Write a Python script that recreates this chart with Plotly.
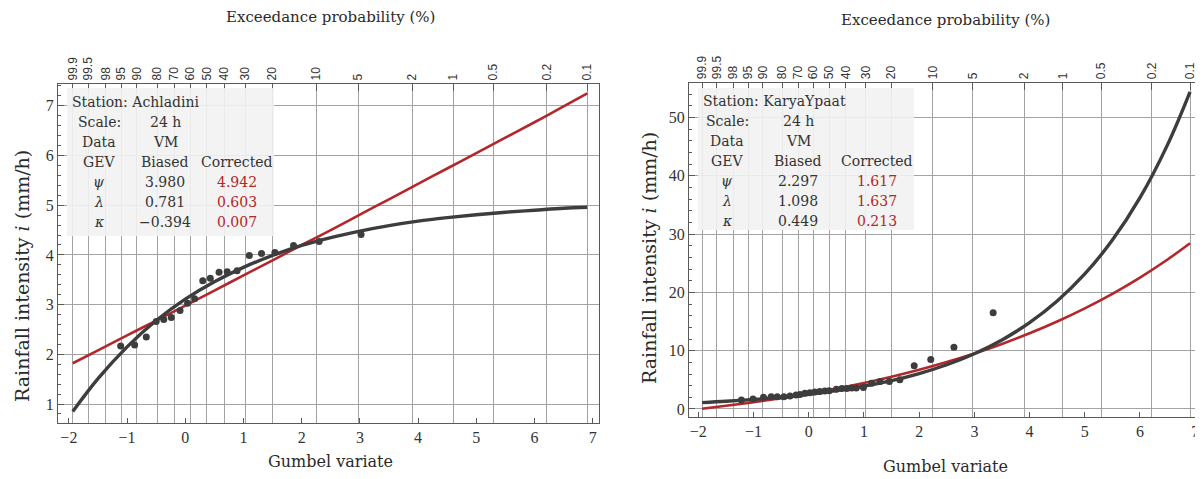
import plotly.graph_objects as go

# ---------------- data ----------------
prob_labels = ["99.9", "99.5", "98", "95", "90", "80", "70", "60", "50", "40", "30", "20",
               "10", "5", "2", "1", "0.5", "0.2", "0.1"]
prob_gumbel = [-1.933, -1.667, -1.364, -1.097, -0.834, -0.476, -0.186, 0.087, 0.367, 0.672,
               1.031, 1.500, 2.250, 2.970, 3.902, 4.600, 5.296, 6.214, 6.907]

curve_x = [-1.933, -1.5, -1.0, -0.5, 0.0, 0.5, 1.0, 1.5, 2.0, 2.5, 3.0, 3.5, 4.0, 4.5,
           5.0, 5.5, 6.0, 6.5, 6.907]

# Left: Achladini
a_pts_x = [-1.11, -0.87, -0.67, -0.50, -0.37, -0.24, -0.09, 0.04, 0.16, 0.30, 0.43, 0.58,
           0.72, 0.89, 1.10, 1.31, 1.54, 1.86, 2.30, 3.02]
a_pts_y = [2.17, 2.19, 2.35, 2.66, 2.70, 2.74, 2.88, 3.03, 3.12, 3.48, 3.53, 3.65,
           3.66, 3.68, 3.99, 4.03, 4.05, 4.19, 4.27, 4.41]
a_biased = [0.85, 1.51, 2.15, 2.68, 3.11, 3.46, 3.75, 3.99, 4.19, 4.35, 4.48, 4.59, 4.68,
            4.75, 4.81, 4.86, 4.90, 4.94, 4.96]
a_corr = [1.82, 2.08, 2.38, 2.68, 2.98, 3.28, 3.59, 3.89, 4.20, 4.50, 4.81, 5.12, 5.43,
          5.74, 6.05, 6.36, 6.67, 6.99, 7.25]

# Right: KaryaYpaat
k_pts_x = [-1.22, -1.01, -0.82, -0.68, -0.57, -0.45, -0.34, -0.23, -0.16, -0.07, 0.02, 0.11,
           0.20, 0.29, 0.37, 0.50, 0.60, 0.69, 0.78, 0.86, 0.99, 1.14, 1.29, 1.46, 1.65,
           1.91, 2.21, 2.63, 3.34]
k_pts_y = [1.54, 1.71, 2.0, 2.1, 2.1, 2.1, 2.23, 2.4, 2.5, 2.7, 2.8, 2.9,
           3.0, 3.1, 3.15, 3.4, 3.5, 3.5, 3.6, 3.6, 3.7, 4.4, 4.7, 4.7, 5.0,
           7.4, 8.5, 10.6, 16.5]
k_biased = [1.10, 1.32, 1.64, 2.03, 2.52, 3.14, 3.91, 4.87, 6.08, 7.59, 9.48, 11.85, 14.81,
            18.52, 23.16, 28.97, 36.24, 45.35, 54.4]
k_corr = [0.05, 0.55, 1.17, 1.87, 2.65, 3.51, 4.47, 5.54, 6.73, 8.05, 9.52, 11.16, 12.98,
          15.00, 17.26, 19.76, 22.54, 25.65, 28.43]

table_rows = [("GEV", "Biased", "Corrected"), ("ψ", None, None), ("λ", None, None), ("κ", None, None)]
a_table = {"station": "Station: Achladini", "scale": "24 h", "data": "VM",
           "biased": ["3.980", "0.781", "−0.394"], "corrected": ["4.942", "0.603", "0.007"]}
k_table = {"station": "Station: KaryaYpaat", "scale": "24 h", "data": "VM",
           "biased": ["2.297", "1.098", "0.449"], "corrected": ["1.617", "1.637", "0.213"]}

# ---------------- styles ----------------
DARK = "#3d3d3d"
RED = "#b3262a"
GRID = "#a3a3a3"
FRAME = "#5a5a5a"
SERIF = "Liberation Serif"
WIDE = "DejaVu Serif"
TXT = "#333333"

fig = go.Figure()

def add_panel(xa, ya, px, py, cb, cc):
    fig.add_trace(go.Scatter(x=curve_x, y=cc, mode="lines", line=dict(color=RED, width=2.6, shape="spline"),
                             xaxis=xa, yaxis=ya, showlegend=False, hoverinfo="skip"))
    fig.add_trace(go.Scatter(x=curve_x, y=cb, mode="lines", line=dict(color=DARK, width=3.4, shape="spline"),
                             xaxis=xa, yaxis=ya, showlegend=False, hoverinfo="skip"))
    fig.add_trace(go.Scatter(x=px, y=py, mode="markers", marker=dict(color=DARK, size=7),
                             xaxis=xa, yaxis=ya, showlegend=False))

add_panel("x", "y", a_pts_x, a_pts_y, a_biased, a_corr)
add_panel("x2", "y2", k_pts_x, k_pts_y, k_biased, k_corr)

tickfont = dict(family=SERIF, size=16, color=TXT)
topfont = dict(family="Liberation Sans", size=12, color=TXT)

def bottom_axis(domain, rng, anchor):
    return dict(domain=domain, range=rng, anchor=anchor, showgrid=False, zeroline=False,
                automargin=False,
                tickmode="array", tickvals=list(range(-2, 8)),
                ticktext=[("−" + str(-v)) if v < 0 else str(v) for v in range(-2, 8)],
                ticks="inside", ticklen=5, tickcolor=FRAME, showline=True, linecolor=FRAME,
                linewidth=1.2, tickfont=tickfont)

def top_axis(overlay, rng, anchor):
    return dict(overlaying=overlay, side="top", range=rng, anchor=anchor, tickmode="array",
                automargin=False,
                tickvals=prob_gumbel, ticktext=prob_labels, tickangle=-90, ticks="inside",
                ticklen=7, tickcolor=FRAME, showgrid=True, gridcolor=GRID, gridwidth=1,
                showline=True, linecolor=FRAME, linewidth=1.2, zeroline=False, tickfont=topfont)

# the page body adds an 8 px offset, so the figure is 8 px smaller and margins shifted
fig.update_layout(
    width=1195, height=471,
    margin=dict(l=50, r=3, t=74, b=56, autoexpand=False),
    paper_bgcolor="white", plot_bgcolor="white",
    xaxis=bottom_axis([0, 0.4737], [-2.187, 7.108], "y"),
    xaxis2=bottom_axis([0.5525, 1.0], [-2.170, 7.087], "y2"),
    xaxis3=top_axis("x", [-2.187, 7.108], "y"),
    xaxis4=top_axis("x2", [-2.170, 7.087], "y2"),
    yaxis=dict(domain=[0, 0.994], range=[0.618, 7.439], anchor="x", tickmode="linear", tick0=0, dtick=1,
               automargin=False,
               ticks="inside", ticklen=6, tickcolor=FRAME, showgrid=True, gridcolor=GRID,
               showline=True, linecolor=FRAME, linewidth=1.2, mirror=True, zeroline=False,
               minor=dict(dtick=0.2, tick0=0, ticks="inside", ticklen=3, tickcolor=FRAME, showgrid=False),
               tickfont=tickfont),
    yaxis2=dict(domain=[0.0185, 0.998], range=[-1.32, 55.97], anchor="x2", tickmode="linear", tick0=0,
                automargin=False,
                dtick=10, ticks="inside", ticklen=6, tickcolor=FRAME, showgrid=True, gridcolor=GRID,
                showline=True, linecolor=FRAME, linewidth=1.2, mirror=True, zeroline=False,
                minor=dict(dtick=2, tick0=0, ticks="inside", ticklen=3, tickcolor=FRAME, showgrid=False),
                tickfont=tickfont),
)

# dummy invisible traces so the top axes render
fig.add_trace(go.Scatter(x=[None], y=[None], xaxis="x3", yaxis="y", showlegend=False, hoverinfo="skip"))
fig.add_trace(go.Scatter(x=[None], y=[None], xaxis="x4", yaxis="y2", showlegend=False, hoverinfo="skip"))

ann = []

def pix(xp, yp):
    # page pixel -> paper coords (plot area spans page x 58..1200, y 82..423)
    return dict(xref="paper", yref="paper", x=(xp - 58) / 1142, y=(423 - yp) / 341)

# axis titles
for cx, cy, txt, ang, fs in [
    (330, 17, "Exceedance probability (%)", 0, 15),
    (945, 20, "Exceedance probability (%)", 0, 15),
    (330, 462, "Gumbel variate", 0, 16),
    (945, 467, "Gumbel variate", 0, 16),
    (22, 276, "Rainfall intensity <i>i</i> (mm/h)", -90, 19),
    (649, 258, "Rainfall intensity <i>i</i> (mm/h)", -90, 19),
]:
    d = pix(cx, cy)
    ann.append(dict(text=txt, showarrow=False, textangle=ang,
                    font=dict(family=WIDE, size=fs, color="#2a2a2a"),
                    xanchor="center", yanchor="middle", **d))

shapes = []

def add_table(tb, box, rows_y, col_x, station_x):
    x0, y0, x1, y1 = box
    p0 = pix(x0, y1)
    p1 = pix(x1, y0)
    shapes.append(dict(type="rect", xref="paper", yref="paper", x0=p0["x"], y0=p0["y"],
                       x1=p1["x"], y1=p1["y"], fillcolor="rgba(241,242,241,0.9)", line=dict(width=0),
                       layer="above"))
    f = dict(family=WIDE, size=14, color=TXT)
    fr = dict(family=WIDE, size=14, color=RED)
    ann.append(dict(text=tb["station"], showarrow=False, font=f, xanchor="left", yanchor="middle",
                    **pix(station_x, rows_y[0])))
    ann.append(dict(text="Scale:", showarrow=False, font=f, xanchor="center", yanchor="middle",
                    **pix(col_x[0], rows_y[1])))
    ann.append(dict(text=tb["scale"], showarrow=False, font=f, xanchor="center", yanchor="middle",
                    **pix(col_x[1], rows_y[1])))
    ann.append(dict(text="Data", showarrow=False, font=f, xanchor="center", yanchor="middle",
                    **pix(col_x[0], rows_y[2])))
    ann.append(dict(text=tb["data"], showarrow=False, font=f, xanchor="center", yanchor="middle",
                    **pix(col_x[1], rows_y[2])))
    for j, t in enumerate(table_rows[0]):
        ann.append(dict(text=t, showarrow=False, font=f, xanchor="center", yanchor="middle",
                        **pix(col_x[j], rows_y[3])))
    for i in range(3):
        ann.append(dict(text="<i>" + table_rows[i + 1][0] + "</i>", showarrow=False, font=f,
                        xanchor="center", yanchor="middle", **pix(col_x[0], rows_y[4 + i])))
        ann.append(dict(text=tb["biased"][i], showarrow=False, font=f, xanchor="center",
                        yanchor="middle", **pix(col_x[1], rows_y[4 + i])))
        ann.append(dict(text=tb["corrected"][i], showarrow=False, font=fr, xanchor="center",
                        yanchor="middle", **pix(col_x[2], rows_y[4 + i])))

add_table(a_table, (67, 88, 274, 236), [102, 122, 142, 162, 182, 202, 222], [99, 165, 237], 70)
add_table(k_table, (698, 88, 914, 230), [101, 121, 141, 161, 181, 201, 221], [727, 798, 877], 701)

fig.update_layout(annotations=ann, shapes=shapes)
fig.write_html("out.html")
